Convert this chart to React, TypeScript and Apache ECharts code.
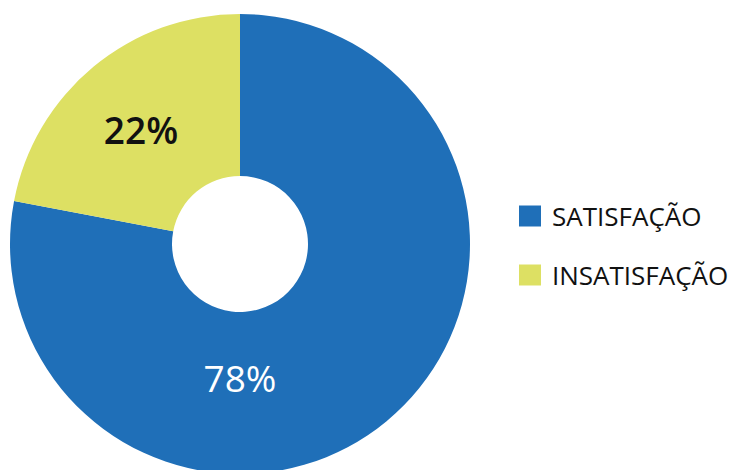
import React, { useEffect, useRef } from "react";
import * as echarts from "echarts";

const categories = ["SATISFAÇÃO", "INSATISFAÇÃO"];
const values = [78, 22];
const colors = ["#1f6fb8", "#dde063"];
const labelColors = ["#ffffff", "#111111"];
const labelWeights = [400, 600];

export default function App() {
  const ref = useRef<HTMLDivElement>(null);
  useEffect(() => {
    if (!ref.current) return;
    const chart = echarts.init(ref.current, null, { renderer: "svg" });
    const labelPos = [
      [240, 377],
      [141, 129],
    ];
    chart.setOption({
      animation: false,
      backgroundColor: "#ffffff",
      legend: {
        orient: "vertical",
        left: 519,
        top: 203,
        padding: 0,
        itemWidth: 22,
        itemHeight: 21,
        itemGap: 33,
        icon: "rect",
        data: categories,
        textStyle: {
          fontSize: 26,
          color: "#111111",
          fontFamily: "Open Sans",
          padding: [0, 0, 0, 6],
        },
        selectedMode: false,
      },
      series: [
        {
          type: "pie",
          center: [240, 244],
          radius: [68, 230],
          startAngle: 90,
          clockwise: true,
          silent: true,
          label: {
            show: true,
            position: "inside",
            formatter: "{c}%",
            fontSize: 37,
            fontFamily: "Open Sans",
          },
          labelLine: { show: false },
          labelLayout: (params: any) => {
            const p = labelPos[params.dataIndex];
            return { x: p[0], y: p[1], align: "center", verticalAlign: "middle" };
          },
          data: categories.map((name, i) => ({
            name,
            value: values[i],
            itemStyle: { color: colors[i] },
            label: { color: labelColors[i], fontWeight: labelWeights[i] },
          })),
        },
      ],
    });
    return () => chart.dispose();
  }, []);
  return (
    <div
      ref={ref}
      style={{ position: "fixed", left: 0, top: 0, width: 735, height: 470 }}
    />
  );
}
